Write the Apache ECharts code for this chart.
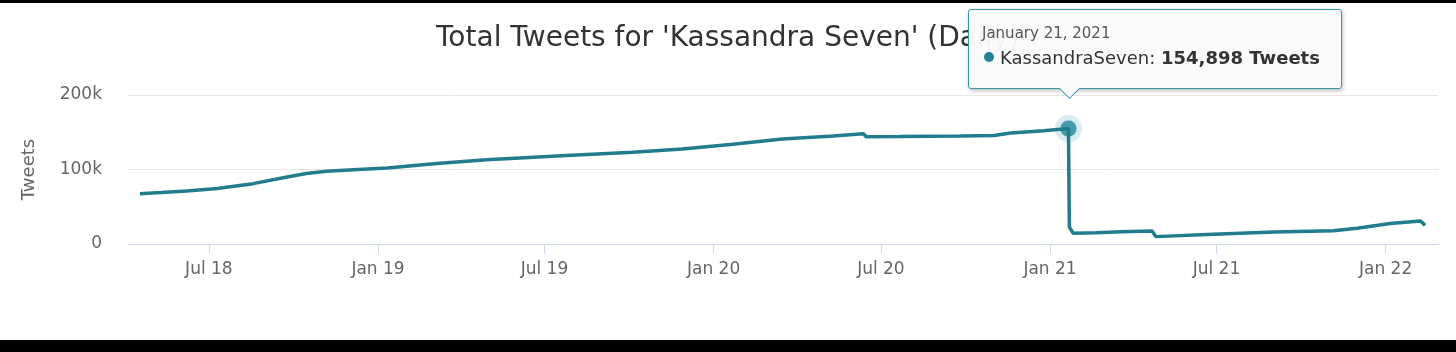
<!DOCTYPE html>
<html>
    <head>
        <meta charset="UTF-8">
        <title>Total Tweets</title>
        <script type="text/javascript" src="https://cdn.jsdelivr.net/npm/echarts@6/dist/echarts.min.js"></script>
        <style>
            body { margin: 0; background: #fff; }
            #main { position: absolute; left: 0; top: 0; width: 1456px; height: 352px; }
            .bar { position: absolute; left: 0; width: 1456px; background: #000; }
        </style>
    </head>
    <body>
        <div id="main"></div>
        <div class="bar" style="top:0;height:3px;"></div>
        <div class="bar" style="top:340px;height:12px;"></div>
    </body>
</html>
<script type="text/javascript">
        // daily totals
        var dates = [
                '2018-04-17', '2018-05-10', '2018-06-07', '2018-07-10', '2018-08-18', '2018-09-24',
                '2018-10-15', '2018-11-06', '2018-12-10', '2019-01-11', '2019-03-06', '2019-04-29',
                '2019-06-04', '2019-07-25', '2019-10-05', '2019-11-28', '2020-01-22', '2020-03-16',
                '2020-05-10', '2020-06-08', '2020-06-12', '2020-06-15', '2020-07-22', '2020-09-26',
                '2020-11-01', '2020-11-19', '2020-12-25', '2021-01-21', '2021-01-22', '2021-01-26',
                '2021-02-20', '2021-03-20', '2021-04-22', '2021-04-26', '2021-06-21', '2021-09-01',
                '2021-11-05', '2021-12-01', '2022-01-06', '2022-02-08', '2022-02-13'
        ];
        var tweets = [
                67600, 69000, 71000, 74500, 81000, 90000,
                94500, 97500, 100000, 102000, 108000, 113000,
                115500, 118700, 123000, 127600, 134000, 141000,
                145000, 147800, 148000, 144000, 144200, 145000,
                145700, 149000, 152000, 154898, 23000, 14500,
                15200, 16300, 17400, 9900, 12900, 16000,
                17800, 21000, 27600, 31000, 25000
        ];
        var tickDates = ['2018-07-01', '2019-01-01', '2019-07-01', '2020-01-01', '2020-07-01', '2021-01-01', '2021-07-01', '2022-01-01'];
        var tickLabels = ['Jul 18', 'Jan 19', 'Jul 19', 'Jan 20', 'Jul 20', 'Jan 21', 'Jul 21', 'Jan 22'];
        var seriesName = 'KassandraSeven';
        var hoverDate = '2021-01-21';

        function ts(d) {
                var p = d.split('-');
                return Date.UTC(+p[0], +p[1] - 1, +p[2]);
        }
        var monthNames = ['January', 'February', 'March', 'April', 'May', 'June', 'July',
                'August', 'September', 'October', 'November', 'December'];

        var lineData = [];
        for (var i = 0; i < dates.length; i++) {
                lineData.push([ts(dates[i]), tweets[i]]);
        }
        var tickValues = tickDates.map(ts);
        var hoverIndex = dates.indexOf(hoverDate);
        var hoverPoint = [lineData[hoverIndex]];

        var teal = '#1f8497';
        var font = 'DejaVu Sans';

        var myChart = echarts.init(document.getElementById('main'));
        option = {
                animation: false,
                backgroundColor: '#fff',
                title: {
                        text: "Total Tweets for 'Kassandra Seven' (Daily)",
                        left: 'center',
                        top: 20,
                        textStyle: {
                                fontFamily: font,
                                fontSize: 28,
                                fontWeight: 'normal',
                                color: '#333'
                        }
                },
                grid: {
                        left: 128,
                        right: 18,
                        top: 95,
                        bottom: 108
                },
                tooltip: {
                        trigger: 'item',
                        triggerOn: 'none',
                        alwaysShowContent: true,
                        backgroundColor: 'rgba(250,250,250,0.96)',
                        borderColor: '#3a95a5',
                        borderWidth: 1,
                        padding: [13, 21, 17, 13],
                        extraCssText: 'box-shadow: 1px 2px 4px rgba(0,0,0,0.25); border-radius: 3px;',
                        position: function(point) {
                                return [point[0] - 100, point[1] - 120];
                        },
                        formatter: function(params) {
                                var d = new Date(params.value[0]);
                                var head = monthNames[d.getUTCMonth()] + ' ' + d.getUTCDate() + ', ' + d.getUTCFullYear();
                                var val = params.value[1].toLocaleString('en-US');
                                return '<div style="font-family:\'DejaVu Sans\';font-size:15px;color:#555;line-height:21px;">' + head + '</div>' +
                                        '<div style="font-family:\'DejaVu Sans\';font-size:18px;color:#333;line-height:27px;">' +
                                        '<span style="display:inline-block;width:10px;height:10px;border-radius:50%;background:' + teal + ';margin:0 6px 2px 2px;"></span>' +
                                        seriesName + ': <b>' + val + ' Tweets</b></div>' +
                                        '<div style="position:absolute;left:93px;bottom:-8px;width:14px;height:14px;background:rgba(250,250,250,1);' +
                                        'border-right:1px solid #3a95a5;border-bottom:1px solid #3a95a5;transform:rotate(45deg);"></div>';
                        }
                },
                xAxis: {
                        type: 'value',
                        min: ts('2018-04-04'),
                        max: ts('2022-02-27'),
                        axisLine: {
                                show: true,
                                lineStyle: { color: '#ccd6eb', width: 1 }
                        },
                        axisTick: {
                                show: true,
                                length: 10,
                                customValues: tickValues,
                                lineStyle: { color: '#ccd6eb' }
                        },
                        axisLabel: {
                                customValues: tickValues,
                                margin: 17,
                                fontFamily: font,
                                fontSize: 17,
                                color: '#666',
                                formatter: function(v) {
                                        var k = tickValues.indexOf(v);
                                        return k >= 0 ? tickLabels[k] : '';
                                }
                        },
                        splitLine: { show: false }
                },
                yAxis: {
                        type: 'value',
                        min: 0,
                        max: 200000,
                        interval: 100000,
                        name: 'Tweets',
                        nameLocation: 'middle',
                        nameRotate: 90,
                        nameGap: 90,
                        nameTextStyle: {
                                fontFamily: font,
                                fontSize: 18,
                                color: '#666'
                        },
                        axisLine: { show: false },
                        axisTick: { show: false },
                        axisLabel: {
                                margin: 26,
                                fontFamily: font,
                                fontSize: 17,
                                color: '#666',
                                formatter: function(v) {
                                        return v === 0 ? '0' : (v / 1000) + 'k';
                                }
                        },
                        splitLine: {
                                lineStyle: { color: '#e6e6e6', width: 1 }
                        }
                },
                series: [{
                        name: seriesName,
                        type: 'line',
                        showSymbol: false,
                        data: lineData,
                        lineStyle: { color: '#217d8d', width: 3.5 },
                        itemStyle: { color: teal },
                        emphasis: { disabled: true }
                }, {
                        name: 'halo',
                        type: 'scatter',
                        data: hoverPoint,
                        symbolSize: 27,
                        itemStyle: { color: 'rgba(80,170,195,0.28)' },
                        tooltip: { show: false },
                        silent: true
                }, {
                        name: seriesName,
                        type: 'scatter',
                        data: hoverPoint,
                        symbolSize: 17,
                        itemStyle: { color: teal, borderColor: '#d8eef2', borderWidth: 1 },
                        silent: true
                }]
        };
        myChart.setOption(option);
        myChart.dispatchAction({
                type: 'showTip',
                seriesIndex: 2,
                dataIndex: 0
        });
</script>
